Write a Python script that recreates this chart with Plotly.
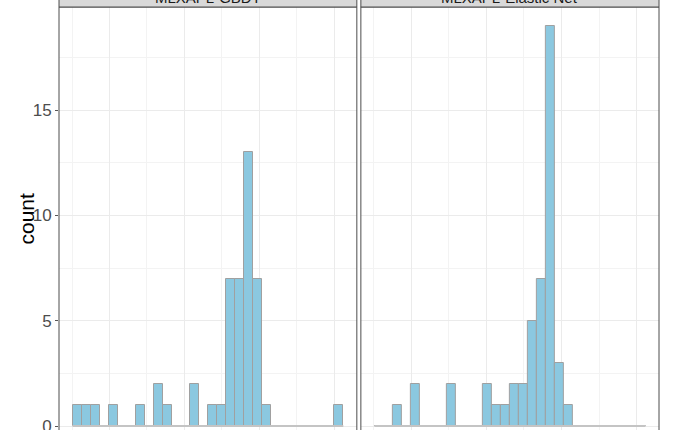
import plotly.graph_objects as go

# ---- data ----
panels = ["MLXAPL-GBDT", "MLXAPL-Elastic Net"]
n_bins = 30
bin_start = 0.014
bin_width = 0.2408
counts_gbdt = [1, 1, 1, 0, 1, 0, 0, 1, 0, 2, 1, 0, 0, 2, 0, 1, 1, 7, 7, 13, 7, 1,
               0, 0, 0, 0, 0, 0, 0, 1]
counts_enet = [0, 0, 1, 0, 2, 0, 0, 0, 2, 0, 0, 0, 2, 1, 1, 2, 2, 5, 7, 19, 3, 1,
               0, 0, 0, 0, 0, 0, 0, 0]
y_ticks = [0, 5, 10, 15]
y_title = "count"

centers = [bin_start + (i + 0.5) * bin_width for i in range(n_bins)]
edge_lo = bin_start
edge_hi = bin_start + n_bins * bin_width
span = edge_hi - edge_lo
x_range = [edge_lo - 0.05 * span, edge_hi + 0.05 * span]
y_range = [-0.19, 19.89]

FILL = "#8BC8E0"
OUTLINE = "#A0A0A0"
GRID = "#EBEBEB"
GRID_MINOR = "#F3F3F3"
BORDER = "#4D4D4D"

fig = go.Figure()
domains = [[0, 0.4964], [0.5031, 1]]
for k, counts in enumerate([counts_gbdt, counts_enet]):
    xa = "x" if k == 0 else "x2"
    ya = "y" if k == 0 else "y2"
    fig.add_trace(go.Scatter(x=[edge_lo, edge_hi], y=[0, 0], mode="lines",
                             line=dict(color="#C4C4C4", width=2),
                             xaxis=xa, yaxis=ya, hoverinfo="skip", showlegend=False))
    fig.add_trace(go.Bar(x=centers, y=counts, width=bin_width,
                         marker=dict(color=FILL, line=dict(color=OUTLINE, width=1)),
                         xaxis=xa, yaxis=ya, showlegend=False))

xcommon = dict(range=x_range, showticklabels=False, ticks="", zeroline=False,
               showline=False, tick0=1, dtick=2, showgrid=True, gridcolor=GRID,
               gridwidth=1.1, automargin=False,
               minor=dict(tick0=0, dtick=1, showgrid=True, gridcolor=GRID_MINOR,
                          gridwidth=0.6))
ycommon = dict(range=y_range, zeroline=False, showline=False, automargin=False,
               tickvals=y_ticks, showgrid=True, gridcolor=GRID, gridwidth=1.1,
               minor=dict(tick0=0, dtick=2.5, showgrid=True, gridcolor=GRID_MINOR,
                          gridwidth=0.6))

fig.update_layout(
    width=696, height=430,
    margin=dict(l=59, r=37, t=7, b=0, pad=0, autoexpand=False),
    paper_bgcolor="white", plot_bgcolor="white",
    bargap=0,
    font=dict(family="Liberation Sans, Arial, sans-serif"),
    xaxis=dict(domain=domains[0], anchor="y", **xcommon),
    xaxis2=dict(domain=domains[1], anchor="y2", **xcommon),
    yaxis=dict(anchor="x", ticks="outside", ticklen=3, tickwidth=1,
               tickcolor="#555555", ticklabeloverflow="allow",
               tickfont=dict(size=17, color="#4D4D4D"),
               **ycommon),
    yaxis2=dict(anchor="x2", showticklabels=False, ticks="", matches="y",
                **ycommon),
)

fig.add_annotation(text=y_title, xref="paper", yref="paper", x=0, y=0.5,
                   xanchor="center", yanchor="middle", xshift=-33, textangle=-90,
                   showarrow=False, font=dict(size=21, color="black"))

for k, name in enumerate(panels):
    d0, d1 = domains[k]
    # panel border
    fig.add_shape(type="rect", xref="paper", yref="paper", x0=d0, x1=d1,
                  y0=-0.1, y1=1, line=dict(color=BORDER, width=1),
                  fillcolor="rgba(0,0,0,0)", layer="above")
    # strip
    fig.add_shape(type="rect", xref="paper", yref="paper", x0=d0, x1=d1,
                  y0=1, y1=1.1, line=dict(color=BORDER, width=1),
                  fillcolor="#D9D9D9", layer="above")
    fig.add_annotation(text=name, xref="paper", yref="paper",
                       x=(d0 + d1) / 2, y=1.0, xanchor="center", yanchor="bottom",
                       yshift=-1, showarrow=False,
                       font=dict(size=15, color="#1A1A1A"))

fig.write_html("out.html",
               config={"displayModeBar": False},
               post_script="document.body.style.margin='0';"
                           "document.body.style.overflow='hidden';")
